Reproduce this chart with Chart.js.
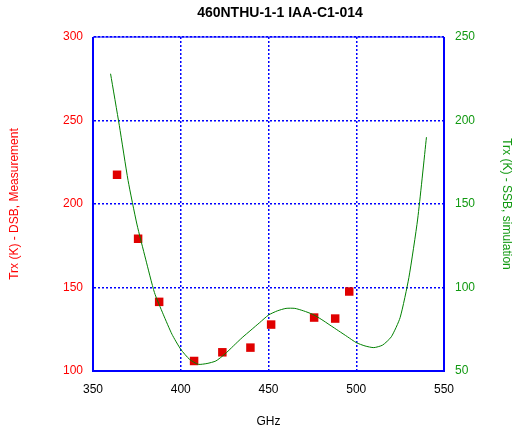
<!DOCTYPE html>
<html>
<head>
<meta charset="utf-8">
<script src="https://cdn.jsdelivr.net/npm/chart.js@4.4.1/dist/chart.umd.min.js"></script>
<style>
  html, body { margin: 0; padding: 0; background: #fff; }
  #wrap { width: 514px; height: 430px; }
</style>
</head>
<body>
<div id="wrap"><canvas id="trxChart"></canvas></div>
<script>
// Measured DSB points (left axis)
const measFreq = [363.7, 375.7, 387.7, 407.6, 423.7, 439.7, 451.5, 476.0, 488.0, 496.0];
const measTrx = [217.5, 179.2, 141.4, 106, 111.2, 114, 127.8, 132, 131.4, 147.6];

// Simulated SSB curve (right axis)
const simFreq = [360, 365, 370, 375, 380, 385, 390, 395, 400, 405, 410, 415, 420, 425, 430,
  435, 440, 445, 450, 455, 460, 465, 470, 475, 480, 485, 490, 495, 500, 505, 510, 515,
  520, 525, 530, 535, 540];
const simTrx = [228, 197, 164, 138, 117, 97, 84, 72, 63, 57, 54, 54.5, 56, 60, 65,
  70, 74.5, 79, 83.5, 86, 87.5, 87.5, 86, 84, 81, 77.5, 74, 70.5, 67, 65, 64, 65.5,
  70.5, 82, 106, 141, 190];

const xTicks = [350, 400, 450, 500, 550];
const leftTicks = [100, 150, 200, 250, 300];
const rightTicks = [50, 100, 150, 200, 250];

const chartTitle = "460NTHU-1-1 IAA-C1-014";

const blue = "#0000ff";
const fontFamily = "'Liberation Sans', Arial, sans-serif";

// frame around the plot + title text
const framePlugin = {
  id: "frame",
  afterDraw(chart) {
    const { ctx, chartArea: a } = chart;
    ctx.save();
    ctx.strokeStyle = blue;
    ctx.lineWidth = 2;
    ctx.beginPath();
    ctx.moveTo(a.left, a.top);
    ctx.lineTo(a.left, a.bottom);
    ctx.lineTo(a.right, a.bottom);
    ctx.lineTo(a.right, a.top);
    ctx.stroke();
    ctx.lineWidth = 1;
    ctx.beginPath();
    ctx.moveTo(a.left, a.top);
    ctx.lineTo(a.right, a.top);
    ctx.stroke();
    ctx.fillStyle = "#000";
    ctx.font = "bold 14px " + fontFamily;
    ctx.textAlign = "center";
    ctx.textBaseline = "middle";
    ctx.fillText(chartTitle, 280, 13);
    ctx.restore();
  },
};

const ctx = document.getElementById("trxChart").getContext("2d");

new Chart(ctx, {
  type: "scatter",
  data: {
    datasets: [
      {
        label: "SSB simulation",
        data: simFreq.map((f, i) => ({ x: f, y: simTrx[i] })),
        yAxisID: "y2",
        showLine: true,
        borderColor: "#008000",
        borderWidth: 1,
        pointRadius: 0,
        tension: 0.2,
      },
      {
        label: "DSB measurement",
        data: measFreq.map((f, i) => ({ x: f, y: measTrx[i] })),
        yAxisID: "y",
        pointStyle: "rect",
        pointRadius: 6,
        pointBorderWidth: 0,
        backgroundColor: "#e00000",
        borderColor: "#e00000",
      },
    ],
  },
  options: {
    responsive: true,
    maintainAspectRatio: false,
    animation: false,
    layout: { padding: { top: 37, left: 0, right: 0, bottom: 0 } },
    plugins: {
      legend: { display: false },
      tooltip: { enabled: false },
    },
    scales: {
      x: {
        type: "linear",
        min: 350,
        max: 550,
        afterFit: (s) => { s.height = 59; },
        afterBuildTicks: (s) => { s.ticks = xTicks.map((v) => ({ value: v })); },
        ticks: { color: "#000", padding: 11, font: { family: fontFamily, size: 12 } },
        grid: { color: blue, lineWidth: 1.5, drawTicks: false },
        border: { color: blue, width: 1, dash: [2, 2] },
        title: {
          display: true,
          text: "GHz",
          color: "#000",
          padding: { top: 0, bottom: 1 },
          font: { family: fontFamily, size: 12 },
        },
      },
      y: {
        position: "left",
        min: 100,
        max: 300,
        afterFit: (s) => { s.width = 93; },
        afterBuildTicks: (s) => { s.ticks = leftTicks.map((v) => ({ value: v })); },
        ticks: { color: "#ff0000", padding: 10, font: { family: fontFamily, size: 12 } },
        grid: { color: blue, lineWidth: 1.5, drawTicks: false },
        border: { color: blue, width: 1, dash: [2, 2] },
        title: {
          display: true,
          text: "Trx (K) - DSB, Measurement",
          color: "#ff0000",
          padding: { top: 7, bottom: 0 },
          font: { family: fontFamily, size: 12 },
        },
      },
      y2: {
        position: "right",
        min: 50,
        max: 250,
        afterFit: (s) => { s.width = 70; },
        afterBuildTicks: (s) => { s.ticks = rightTicks.map((v) => ({ value: v })); },
        ticks: { color: "#119911", padding: 11, font: { family: fontFamily, size: 12 } },
        grid: { display: false, drawTicks: false },
        border: { color: blue, width: 1 },
        title: {
          display: true,
          text: "Trx (K) - SSB, simulation",
          color: "#119911",
          padding: { top: 0, bottom: 0 },
          font: { family: fontFamily, size: 12 },
        },
      },
    },
  },
  plugins: [framePlugin],
});
</script>
</body>
</html>
